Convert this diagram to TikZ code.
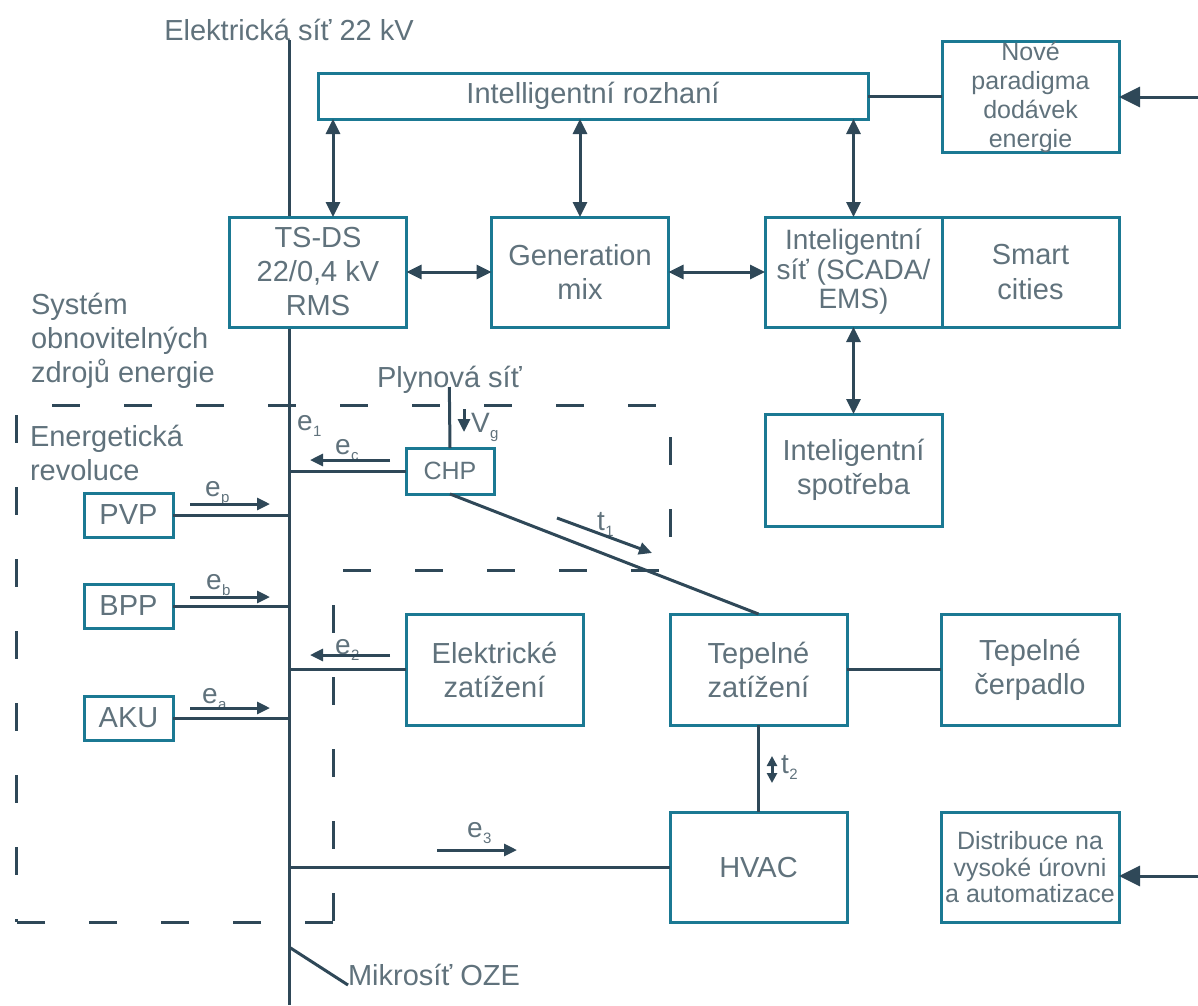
\documentclass[tikz,border=0pt]{standalone}
\usepackage{fontspec}
\setmainfont{Liberation Sans}
\usetikzlibrary{arrows.meta,calc}

\definecolor{boxc}{RGB}{27,121,147}
\definecolor{linec}{RGB}{47,72,88}
\definecolor{txtc}{RGB}{96,114,124}

% symbol with a small lowered index
\newcommand\subl[2]{#1\kern0.5pt\raisebox{-6pt}{\fontsize{15}{15}\selectfont #2}}

\begin{document}
\begin{tikzpicture}[x=1pt,y=-1pt,
  every node/.style={text=txtc, font=\fontsize{29}{34}\selectfont},
  blk/.style={draw=boxc, line width=3pt, fill=white, align=center,
    inner sep=0pt, outer sep=0pt, minimum width=177pt, minimum height=110pt},
  wire/.style={draw=linec, line width=3pt},
  bigarr/.style={wire, -{Triangle[length=21pt,width=20pt]}},
  dblarr/.style={wire, {Triangle[length=15pt,width=14pt]}-{Triangle[length=15pt,width=14pt]}},
  smallarr/.style={wire, -{Triangle[length=13pt,width=12pt]}},
  tinydbl/.style={wire, {Triangle[length=10pt,width=10pt]}-{Triangle[length=10pt,width=10pt]}},
  region/.style={wire, dash pattern=on 28pt off 44pt},
  lbl/.style={anchor=base west, inner sep=0pt, outer sep=0pt},
  sublbl/.style={lbl, font=\fontsize{28}{30}\selectfont},
]
\useasboundingbox (0,0) rectangle (1198,1005);

% dashed boundary of the renewable-energy system
\coordinate (r1) at (16,405);
\coordinate (r2) at (670,405);
\coordinate (r3) at (670,570);
\coordinate (r4) at (333,570);
\coordinate (r5) at (333,922);
\coordinate (r6) at (16,922);
\draw[region, dash phase=36pt] (r1) -- (r2);
\draw[region, dash phase=40pt] (r2) -- (r3);
\draw[region, dash phase=62pt] (r4) -- (r3);
\draw[region, dash phase=37pt] (r4) -- (r5);
\draw[region] (r5) -- (r6);
\draw[region, dash phase=62pt] (r1) -- (r6);

% 22 kV bus
\node[anchor=base, inner sep=0pt] (elsit) at (289,40) {Elektrická síť 22 kV};
\coordinate (busB) at (289,1005);
\coordinate (bus) at (289,0);
\draw[wire] (elsit.base) -- (busB);

% text labels (base anchor of a multi-line label = last line)
\node[lbl, align=left] (sys) at (31,382) {Systém\\obnovitelných\\zdrojů energie};
\node[lbl, align=left] (rev) at (30,480) {Energetická\\revoluce};
\node[lbl] (plyn) at (377,387) {Plynová síť};
\node[lbl] (mik) at (348,985) {Mikrosíť OZE};

% blocks
\node[blk, minimum width=550pt, minimum height=46pt] (rozh) at (593,96) {Intelligentní rozhaní};
\node[blk, font=\fontsize{25}{29}\selectfont] (nove) at (1030.5,97) {Nové\\paradigma\\dodávek\\energie};
\node[blk] (tsds) at (318,272) {TS-DS\\22/0,4 kV\\RMS};
\node[blk] (gen) at (580,272) {Generation\\mix};
\node[blk, font=\fontsize{28}{29.5}\selectfont] (isit) at (853.5,272) {Inteligentní\\síť (SCADA/\\EMS)};
\node[blk, font=\fontsize{29}{35}\selectfont] (smart) at (1030.5,272) {Smart\\cities};
\node[blk, minimum height=112pt] (spotr) at (853.5,470) {Inteligentní\\spotřeba};
\node[blk, minimum width=88pt, minimum height=46pt, font=\fontsize{25}{30}\selectfont] (chp) at (450,471) {CHP};
\node[blk, minimum width=89pt, minimum height=44pt] (pvp) at (128.5,515) {PVP};
\node[blk, minimum width=89pt, minimum height=44pt] (bpp) at (128.5,606) {BPP};
\node[blk, minimum width=89pt, minimum height=44pt] (aku) at (128.5,718) {AKU};
\node[blk, minimum height=111pt] (elz) at (494.5,669.5) {Elektrické\\zatížení};
\node[blk, minimum height=111pt] (tepz) at (758.5,669.5) {Tepelné\\zatížení};
\node[blk, minimum width=178pt, minimum height=111pt] (tepc) at (1030,669.5) {Tepelné\\čerpadlo};
\node[blk] (hvac) at (758.5,867) {HVAC};
\node[blk, minimum width=178pt, font=\fontsize{25}{26.5}\selectfont] (distr) at (1030,867.5) {Distribuce na\\vysoké úrovni\\a automatizace};

% control links
\coordinate (ta) at ($(tsds.north)+(15,0)$);
\draw[dblarr] (ta |- rozh.south) -- (ta);
\draw[dblarr] (rozh.south -| gen.north) -- (gen.north);
\draw[dblarr] (rozh.south -| isit.north) -- (isit.north);
\draw[dblarr] (tsds.east) -- (gen.west);
\draw[dblarr] (gen.east) -- (isit.west);
\draw[dblarr] (isit.south) -- (spotr.north);
\draw[wire] (rozh.east) -- (rozh.east -| nove.west);
\coordinate (inA) at (1198,97);
\coordinate (inB) at (1198,876);
\draw[bigarr] (inA) -- (inA -| nove.east);
\draw[bigarr] (inB) -- (inB -| distr.east);

% energy links
\draw[wire] (plyn.base) -- (chp.north);
\draw[wire] (chp.west) -- (chp.west -| bus);
\draw[wire] (pvp.east) -- (pvp.east -| bus);
\draw[wire] (bpp.east) -- (bpp.east -| bus);
\draw[wire] (aku.east) -- (aku.east -| bus);
\draw[wire] (elz.west) -- (elz.west -| bus);
\draw[wire] (hvac.west) -- (hvac.west -| bus);
\draw[wire] (tepz.east) -- (tepc.west);
\draw[wire] (tepz.south) -- (hvac.north);
\draw[wire] (chp.south) -- (tepz.north);
\coordinate (mj) at (289,947);
\draw[wire] (mj) -- (mik.base west);

% flow labels
\node[sublbl] (le1) at (297,430) {\subl{e}{1}};
\node[sublbl] (lec) at (335,454) {\subl{e}{c}};
\node[sublbl] (lep) at (205,496) {\subl{e}{p}};
\node[sublbl] (leb) at (206,589) {\subl{e}{b}};
\node[sublbl] (lea) at (202,703) {\subl{e}{a}};
\node[sublbl] (le2) at (335,654) {\subl{e}{2}};
\node[sublbl] (le3) at (467,837) {\subl{e}{3}};
\node[sublbl] (lt1) at (597,530) {\subl{t}{1}};
\node[sublbl] (lt2) at (781,773) {\subl{t}{2}};
\node[sublbl] (lvg) at (471,432) {\subl{V}{g}};

% flow arrows
\coordinate (fp1) at (190,504); \coordinate (fp2) at (270,504);
\coordinate (fb1) at (190,597); \coordinate (fb2) at (270,597);
\coordinate (fa1) at (190,708); \coordinate (fa2) at (270,708);
\coordinate (fc1) at (390,460); \coordinate (fc2) at (310,460);
\coordinate (f21) at (390,655); \coordinate (f22) at (310,655);
\coordinate (f31) at (437,850); \coordinate (f32) at (517,850);
\coordinate (ft1) at (557,518); \coordinate (ft2) at (652,553);
\coordinate (fg1) at (464,409); \coordinate (fg2) at (464,432);
\coordinate (fh1) at (772,756); \coordinate (fh2) at (772,783);
\draw[smallarr] (fp1) -- (fp2);
\draw[smallarr] (fb1) -- (fb2);
\draw[smallarr] (fa1) -- (fa2);
\draw[smallarr] (fc1) -- (fc2);
\draw[smallarr] (f21) -- (f22);
\draw[smallarr] (f31) -- (f32);
\draw[smallarr] (ft1) -- (ft2);
\draw[smallarr] (fg1) -- (fg2);
\draw[tinydbl] (fh1) -- (fh2);
\end{tikzpicture}
\end{document}
